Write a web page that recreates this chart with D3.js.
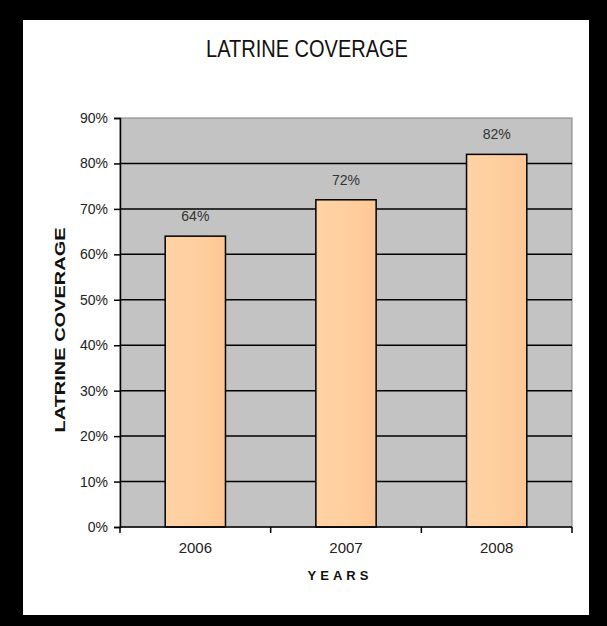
<!DOCTYPE html>
<meta charset="utf-8">
<style>
body { margin: 0; background: #000; }
text { font-family: Arial, "Liberation Sans", sans-serif; }
</style>
<body>
<script src="https://d3js.org/d3.v7.min.js"></script>
<script>

// Chart data
const years = ['2006', '2007', '2008']
const coverage = [64, 72, 82]
const yTicks = [0, 10, 20, 30, 40, 50, 60, 70, 80, 90]

const width = 607
const height = 626

// plot area inside the frame
const plot = { left: 120, top: 118, right: 572, bottom: 527 }

const svg = d3.select('body')
  .append('svg')
  .attr('width', width)
  .attr('height', height)

// black frame with white card
svg.append('rect')
  .attr('width', width)
  .attr('height', height)
  .attr('fill', '#000')

svg.append('rect')
  .attr('x', 23)
  .attr('y', 20)
  .attr('width', 566)
  .attr('height', 595)
  .attr('fill', '#fff')

// scales
const x = d3.scaleBand()
  .domain(years)
  .range([plot.left, plot.right])
  .paddingInner(0.6)
  .paddingOuter(0.3)

const y = d3.scaleLinear()
  .domain([0, 90])
  .range([plot.bottom, plot.top])

// grey plot background
svg.append('rect')
  .attr('x', plot.left)
  .attr('y', plot.top)
  .attr('width', plot.right - plot.left)
  .attr('height', plot.bottom - plot.top)
  .attr('fill', '#c3c3c3')
  .attr('stroke', '#808080')
  .attr('stroke-width', 1)

// gridlines
svg.append('g')
  .selectAll('line')
  .data(yTicks.filter(d => d > 0 && d < 90))
  .join('line')
  .attr('x1', plot.left)
  .attr('x2', plot.right)
  .attr('y1', d => y(d))
  .attr('y2', d => y(d))
  .attr('stroke', '#000')
  .attr('stroke-width', 1.5)

// bars
const grad = svg.append('defs').append('linearGradient')
  .attr('id', 'barGrad')
grad.append('stop').attr('offset', '0%').attr('stop-color', '#ffd2a4')
grad.append('stop').attr('offset', '50%').attr('stop-color', '#ffcf9f')
grad.append('stop').attr('offset', '100%').attr('stop-color', '#fec794')

svg.append('g')
  .selectAll('rect')
  .data(coverage)
  .join('rect')
  .attr('x', (d, i) => x(years[i]))
  .attr('y', d => y(d))
  .attr('width', x.bandwidth())
  .attr('height', d => y(0) - y(d))
  .attr('fill', 'url(#barGrad)')
  .attr('stroke', '#000')
  .attr('stroke-width', 1.5)

// value labels
svg.append('g')
  .selectAll('text')
  .data(coverage)
  .join('text')
  .attr('x', (d, i) => x(years[i]) + x.bandwidth() / 2)
  .attr('y', d => y(d) - 15)
  .attr('text-anchor', 'middle')
  .attr('font-size', 14)
  .attr('fill', '#333')
  .text(d => d + '%')

// y axis
const yAxis = d3.axisLeft(y)
  .tickValues(yTicks)
  .tickSize(6)
  .tickPadding(6)
  .tickFormat(d => d + '%')

const gy = svg.append('g')
  .attr('transform', `translate(${plot.left},0)`)
  .call(yAxis)
gy.select('.domain').attr('stroke', '#000').attr('stroke-width', 1.5)
gy.selectAll('.tick line').attr('stroke', '#000').attr('stroke-width', 1.5)
gy.selectAll('.tick text')
  .attr('font-size', 14)
  .attr('font-family', 'Arial, "Liberation Sans", sans-serif')
  .attr('fill', '#222')

// x axis, ticks sit between categories
const step = (plot.right - plot.left) / years.length
const bounds = d3.range(years.length + 1).map(i => plot.left + i * step)

svg.append('line')
  .attr('x1', plot.left)
  .attr('x2', plot.right)
  .attr('y1', plot.bottom)
  .attr('y2', plot.bottom)
  .attr('stroke', '#000')
  .attr('stroke-width', 1.5)

svg.append('g')
  .selectAll('line')
  .data(bounds)
  .join('line')
  .attr('x1', d => d)
  .attr('x2', d => d)
  .attr('y1', plot.bottom)
  .attr('y2', plot.bottom + 6)
  .attr('stroke', '#000')
  .attr('stroke-width', 1.5)

svg.append('g')
  .selectAll('text')
  .data(years)
  .join('text')
  .attr('x', d => x(d) + x.bandwidth() / 2)
  .attr('y', 553)
  .attr('text-anchor', 'middle')
  .attr('font-size', 15)
  .attr('fill', '#222')
  .text(d => d)

// titles
svg.append('text')
  .attr('transform', 'translate(307,57) scale(1,1.15)')
  .attr('text-anchor', 'middle')
  .attr('font-size', 20)
  .attr('fill', '#111')
  .text('LATRINE COVERAGE')

svg.append('text')
  .attr('x', 340)
  .attr('y', 580)
  .attr('text-anchor', 'middle')
  .attr('font-size', 13)
  .attr('font-weight', 'bold')
  .attr('letter-spacing', 4)
  .attr('fill', '#111')
  .text('YEARS')

svg.append('text')
  .attr('transform', 'translate(65,330) rotate(-90)')
  .attr('text-anchor', 'middle')
  .attr('font-size', 14)
  .attr('font-weight', 'bold')
  .attr('textLength', 205)
  .attr('lengthAdjust', 'spacingAndGlyphs')
  .attr('fill', '#111')
  .text('LATRINE COVERAGE')

</script>
</body>
</html>
